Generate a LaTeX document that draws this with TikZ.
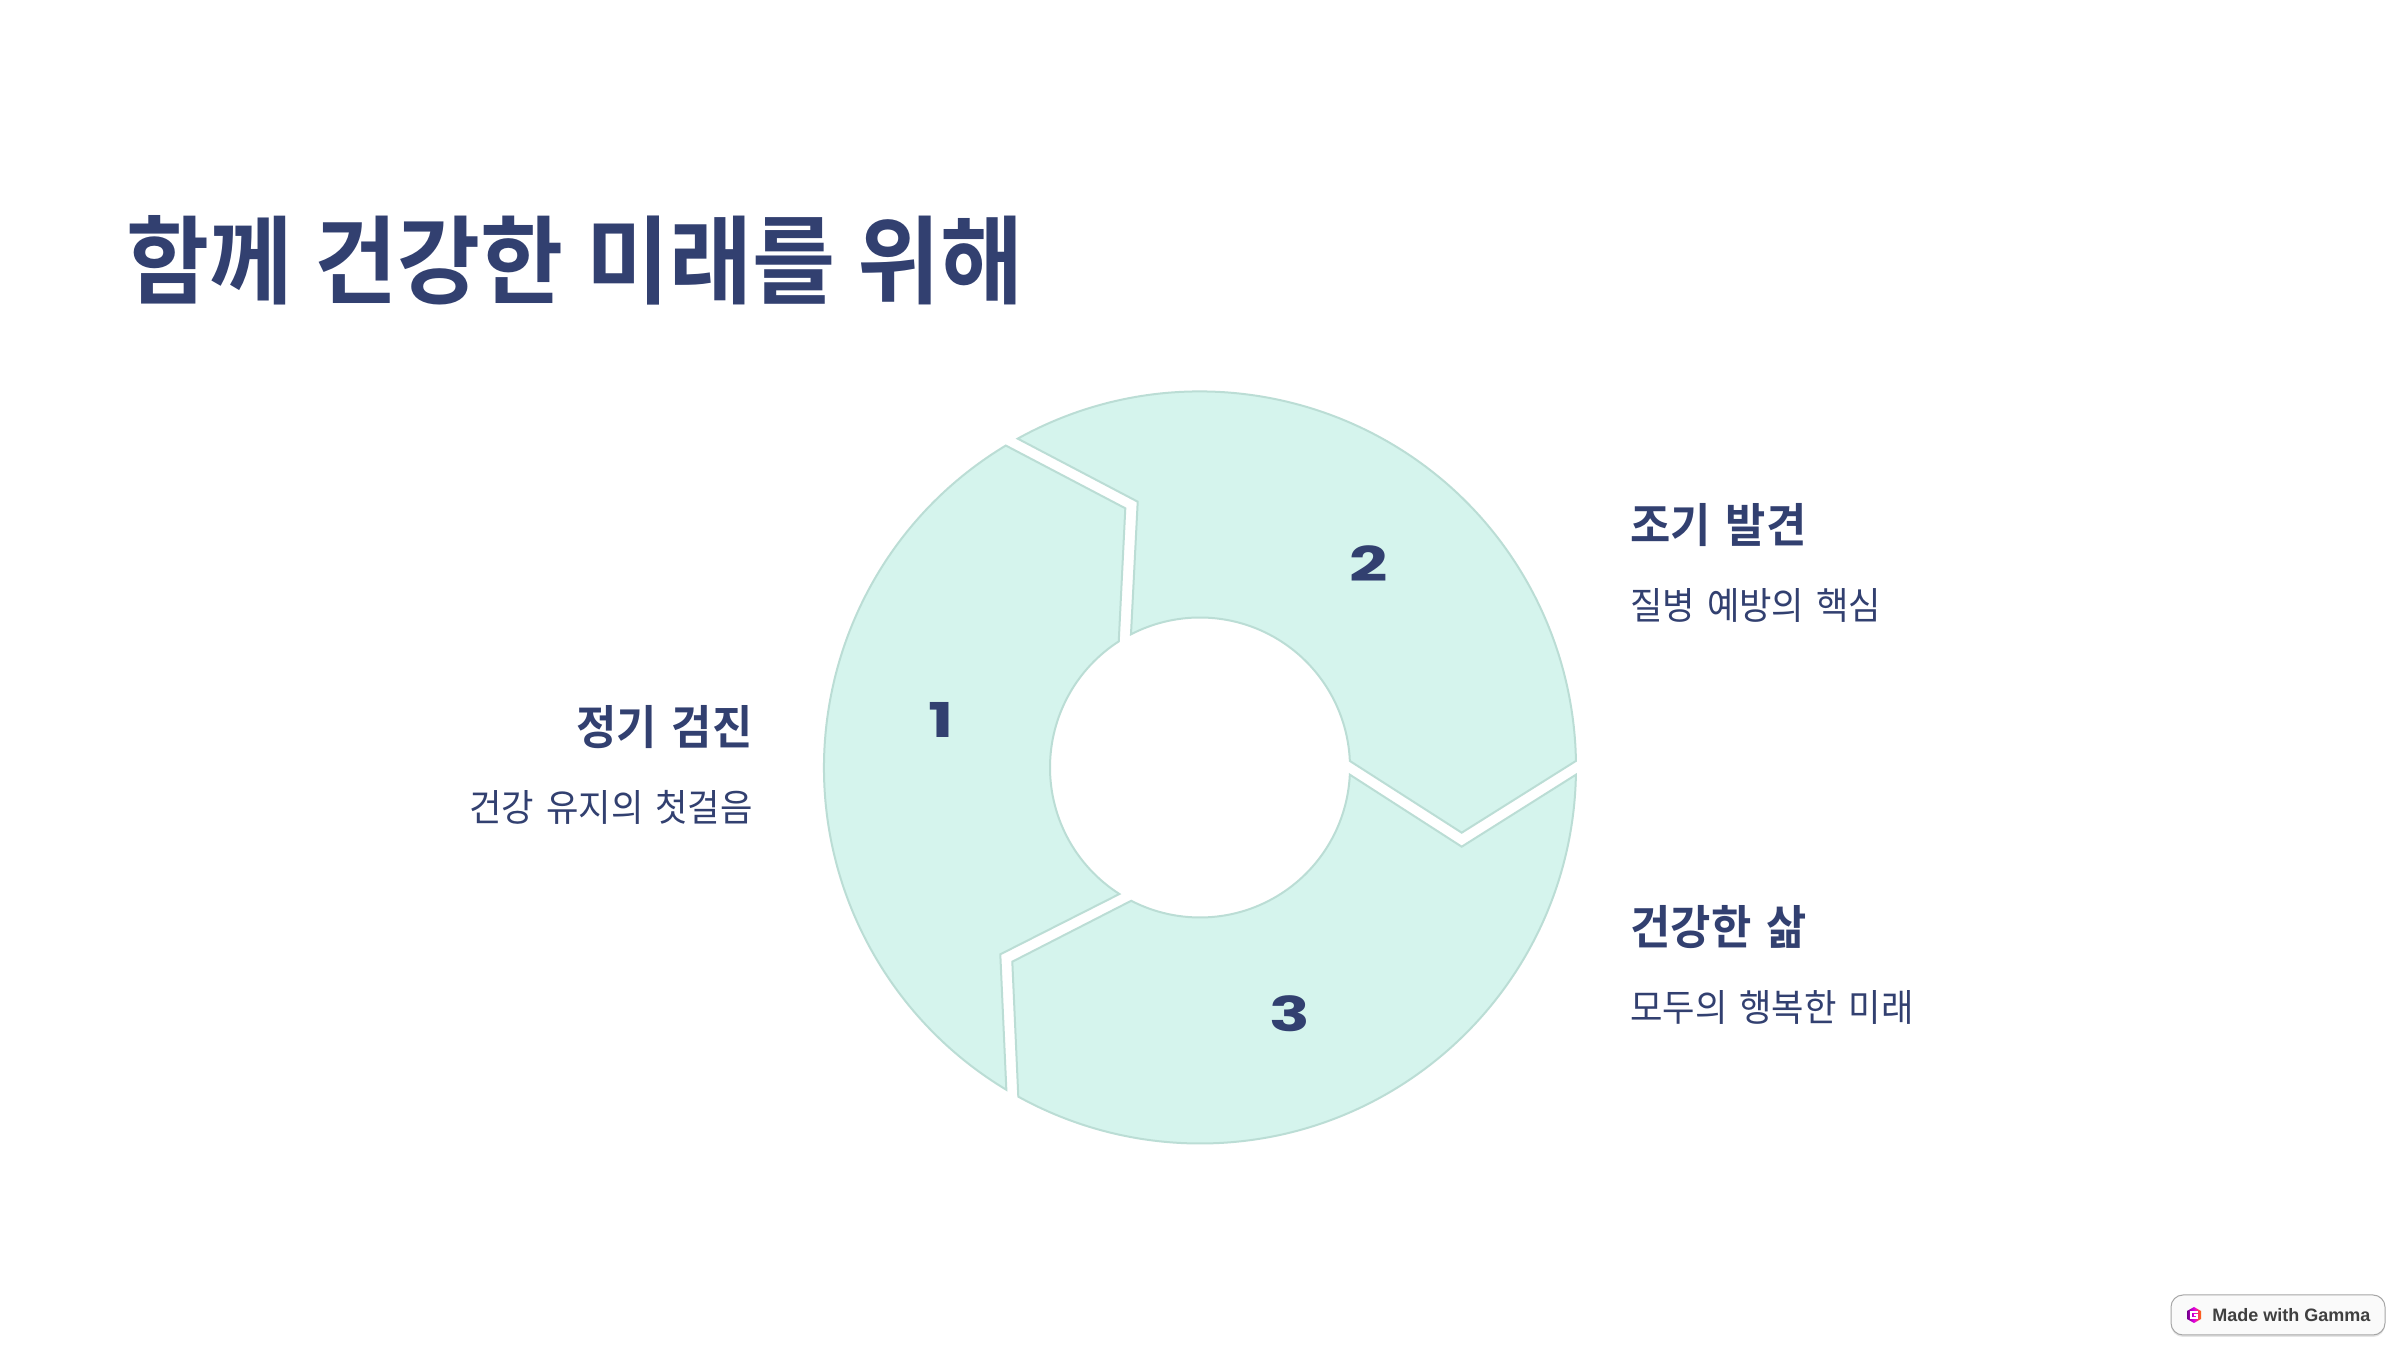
\documentclass[tikz,border=0pt]{standalone}
\usepackage{fontspec}
\setmainfont{Noto Sans CJK KR}
\newfontfamily\hbold[FakeStretch=0.94,WordSpace=1.5]{Noto Sans CJK KR Bold}
\newfontfamily\hreg[FakeStretch=0.94,WordSpace=1.5]{Noto Sans CJK KR}
\newfontfamily\numfont[FakeStretch=1.4]{Poppins Bold}
\newfontfamily\badgefont{Liberation Sans}
\usetikzlibrary{calc,shadows}
\definecolor{navy}{HTML}{324070}
\definecolor{mint}{HTML}{D5F4ED}
\definecolor{mintline}{HTML}{BBDDD5}
\newcommand{\titlefontsetup}{\hbold\fontsize{48}{56}\selectfont}
\tikzset{
  x=0.5pt,y=0.5pt,
  seg/.style={fill=mint,draw=mintline,line width=1pt,line join=miter},
  titletext/.style={anchor=base west,inner sep=0,text=navy,font=\titlefontsetup},
  headl/.style={anchor=base west,inner sep=0,text=navy,font=\hbold\fontsize{23.3}{28}\selectfont},
  headr/.style={anchor=base east,inner sep=0,text=navy,font=\hbold\fontsize{23.3}{28}\selectfont},
  subl/.style={anchor=base west,inner sep=0,text=navy,font=\hreg\fontsize{18.75}{24}\selectfont},
  subr/.style={anchor=base east,inner sep=0,text=navy,font=\hreg\fontsize{18.75}{24}\selectfont},
  numtext/.style={anchor=center,inner sep=0,text=navy,font=\numfont\fontsize{24}{28}\selectfont},
  badgebox/.style={rounded corners=6pt,draw=black!35,fill=black!2,line width=0.5pt,drop shadow={shadow xshift=0pt,shadow yshift=-1pt,opacity=.2}},
}
\begin{document}
\begin{tikzpicture}
\useasboundingbox (0,0) rectangle (2400,1350);
\fill[white] (0,0) rectangle (2400,1350);
\coordinate (c) at (1200,582.5);
% segment 1
\draw[seg] ($(c)+(121.1:376)$) arc[start angle=121.1,end angle=239,radius=376]
  -- (1000.3,395.7) -- ($(c)+(237.5:150)$) arc[start angle=237.5,end angle=122.8,radius=150]
  -- (1125.3,841.7) -- cycle;
% segment 2
\draw[seg] ($(c)+(119:376)$) arc[start angle=119,end angle=1,radius=376]
  -- (1461.7,517.3) -- ($(c)+(2.5:150)$) arc[start angle=2.5,end angle=117.4,radius=150]
  -- (1137.7,848.3) -- cycle;
% segment 3
\draw[seg] ($(c)+(-1.1:376)$) arc[start angle=-1.1,end angle=-118.9,radius=376]
  -- (1012.3,388.3) -- ($(c)+(-117.3:150)$) arc[start angle=-117.3,end angle=-2.75,radius=150]
  -- (1461.7,503.3) -- cycle;
\node[titletext] (title) at (126,1053) {\spaceskip 11.2pt\relax 함께 건강한 미래를 위해};
\node[numtext] (n1) at (941,630) {1};
\node[numtext] (n2) at (1369,786) {2};
\node[numtext] (n3) at (1290,336) {3};
\node[headr] (h1) at (753,605) {정기 검진};
\node[subr] (s1) at (753,528) {건강 유지의 첫걸음};
\node[headl] (h2) at (1630,807) {조기 발견};
\node[subl] (s2) at (1630,730) {질병 예방의 핵심};
\node[headl] (h3) at (1630,405) {건강한 삶};
\node[subl] (s3) at (1630,328) {모두의 행복한 미래};
% badge
\draw[badgebox] (2171,15) rectangle (2385,55);
\shade[left color=violet!90!blue,right color=orange!85!red,middle color=magenta!80!violet]
  (2194,43) -- (2201,39) -- (2201,31) -- (2194,27) -- (2187,31) -- (2187,39) -- cycle;
\draw[white,line width=0.7pt] (2197.5,38) -- (2191,38) -- (2191,32) -- (2197,32) -- (2197,35) -- (2194,35);
\node[anchor=west,inner sep=0,text=black!75,font=\badgefont\bfseries\fontsize{9}{11}\selectfont] (badge) at (2212,35) {Made with Gamma};
\end{tikzpicture}
\end{document}
